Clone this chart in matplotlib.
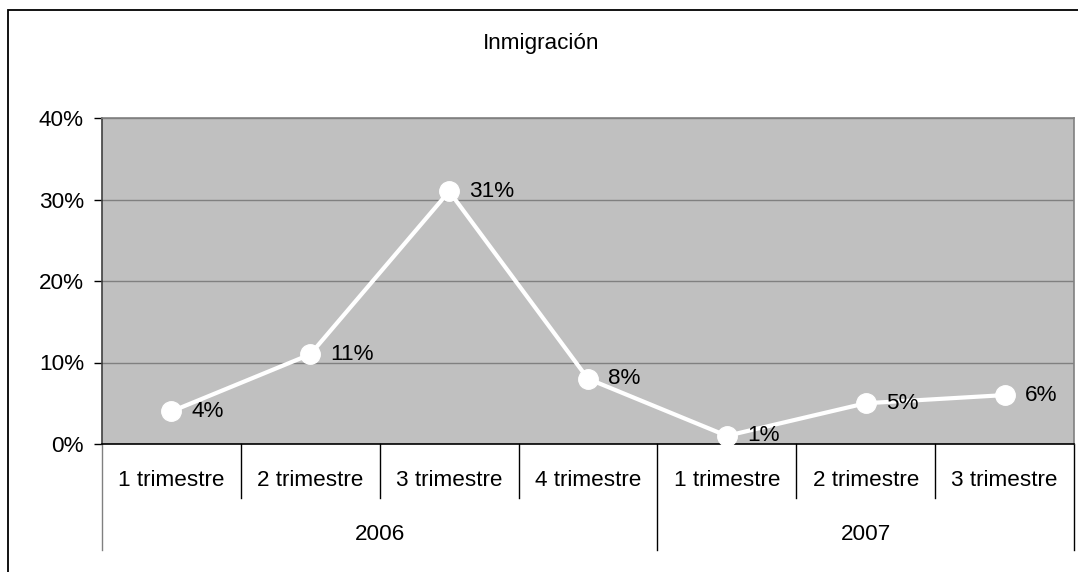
import matplotlib
matplotlib.use("Agg")
import matplotlib.pyplot as plt
from matplotlib.patches import Rectangle
import matplotlib.transforms as mtransforms

plt.rcParams['font.family'] = ['Liberation Sans', 'DejaVu Sans']

title = "Inmigración"
quarters = ["1 trimestre", "2 trimestre", "3 trimestre", "4 trimestre",
            "1 trimestre", "2 trimestre", "3 trimestre"]
years = ["2006", "2007"]
year_counts = [4, 3]
values = [4, 11, 31, 8, 1, 5, 6]
yticks = [0, 10, 20, 30, 40]

FS = 16.2
W, H = 1078, 572
fig = plt.figure(figsize=(W / 100, H / 100), dpi=100)
fig.patch.set_facecolor('white')

# outer chart border
fig.patches.append(Rectangle((8 / W, -0.05), 1.2, 1 - 10 / H + 0.05,
                             transform=fig.transFigure, fill=False,
                             edgecolor='black', linewidth=1.3))

ax = fig.add_axes([102 / W, 1 - 444 / H, (1074 - 102) / W, (444 - 118) / H])
ax.set_facecolor('#c0c0c0')
n = len(values)
ax.set_xlim(0, n)
ax.set_ylim(0, 40)
ax.set_yticks(yticks)
ax.set_yticklabels([f"{v}%" for v in yticks], fontsize=FS)
ax.tick_params(axis='y', length=6, width=1, color='black', pad=7)
ax.set_xticks([])
ax.yaxis.grid(True, color='#808080', linewidth=1)
ax.set_axisbelow(True)
for s in ['top', 'right']:
    ax.spines[s].set_color('#808080')
    ax.spines[s].set_linewidth(1.2)
ax.spines['left'].set_color('#404040')
ax.spines['bottom'].set_color('black')
ax.spines['left'].set_linewidth(1.2)
ax.spines['bottom'].set_linewidth(1.2)

xs = [i + 0.5 for i in range(n)]
ax.plot(xs, values, color='white', linewidth=3, marker='o', markersize=14,
        markerfacecolor='white', markeredgecolor='white', clip_on=False, zorder=3)
for x, v in zip(xs, values):
    ax.annotate(f"{v}%", (x, v), xytext=(14.5, 0), textcoords='offset points',
                ha='left', va='center', fontsize=FS, color='black', zorder=4)

trans = mtransforms.blended_transform_factory(ax.transData, ax.transAxes)
tier1 = -54 / 326
tier2 = -106 / 326
# category dividers
year_bounds = [0]
for c in year_counts:
    year_bounds.append(year_bounds[-1] + c)
for b in range(n + 1):
    low = tier2 if b in year_bounds else tier1
    ax.plot([b, b], [0, low], transform=trans, color='#808080' if b == 0 else 'black',
            linewidth=1, clip_on=False)
for x, q in zip(xs, quarters):
    ax.text(x, -36 / 326, q, transform=trans, ha='center', va='center', fontsize=FS)
for i, y in enumerate(years):
    c = (year_bounds[i] + year_bounds[i + 1]) / 2
    ax.text(c, -90 / 326, y, transform=trans, ha='center', va='center', fontsize=FS)

fig.text(541 / W, 1 - 44 / H, title, ha='center', va='center', fontsize=FS)

fig.savefig("out.png", dpi=100)
